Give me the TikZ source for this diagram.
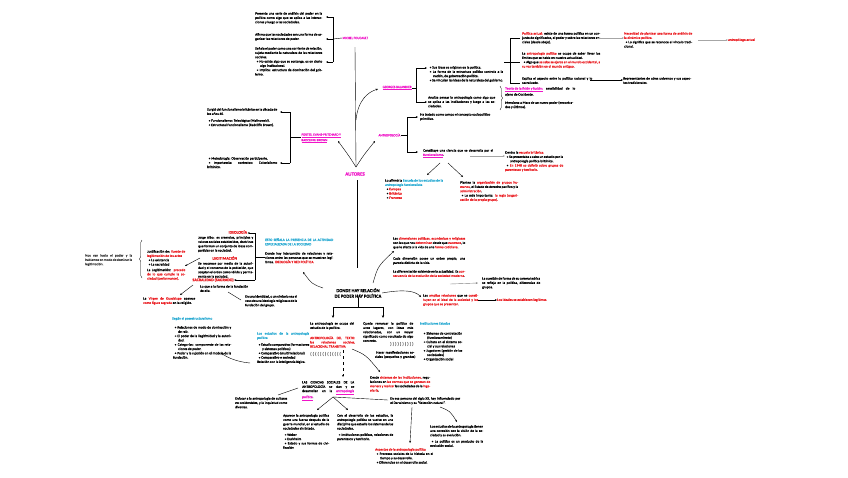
\documentclass[tikz,border=0pt]{standalone}
\usepackage{fontspec}
\setmainfont{Carlito}[FakeBold=0.5]
\usetikzlibrary{arrows.meta,decorations.pathreplacing}
\definecolor{mymag}{RGB}{240,20,200}
\definecolor{myred}{RGB}{235,30,35}
\definecolor{mycyan}{RGB}{40,170,210}
\newcommand{\rd}[1]{\textcolor{myred}{#1}}
\newcommand{\cy}[1]{\textcolor{mycyan}{#1}}
\newcommand{\mgu}[1]{\textcolor{mymag}{\underline{#1}}}
\newcommand{\bul}{\par\hangindent=5pt\hangafter=1\noindent\hspace*{1.5pt}\textbullet\ }
\tikzset{
  tx/.style={font=\fontsize{3.5}{4.3}\selectfont, align=justify, inner sep=0pt, anchor=north west, text width=#1},
  tx/.default=60pt,
  lab/.style={font=\fontsize{3.3}{3.9}\selectfont, text=mymag, inner sep=0.3pt, anchor=west},
  hred/.style={font=\bfseries\fontsize{4}{4.6}\selectfont, text=myred, inner sep=0.3pt, anchor=west},
  sym/.style={font=\fontsize{4.6}{5}\selectfont, text=black!55, inner sep=0pt, anchor=west},
  ln/.style={line width=0.4pt},
  ar/.style={-{Stealth[length=2.2pt,width=1.9pt]}, line width=0.4pt},
  bar/.style={-{Stealth[length=2.8pt,width=2.4pt]}, line width=0.75pt},
  gar/.style={-{Stealth[length=2.2pt,width=1.8pt]}, line width=0.9pt, gray!70},
  brc/.style={decorate, decoration={brace, amplitude=2.5pt}, line width=0.4pt}
}
\begin{document}
\begin{tikzpicture}[x=1pt,y=-1pt]
\useasboundingbox[fill=white] (0,0) rectangle (848,477);

% ---------- AUTORES ----------
\node[font=\bfseries\fontsize{5}{6}\selectfont, text=mymag, inner sep=1pt] (autores) at (355,174) {AUTORES};
\coordinate (apex) at (356,167);
\coordinate (vtop) at (355,47);
\draw[ln] (apex) -- (vtop);

% ---------- Foucault ----------
\node[tx=67pt] (f1) at (255,12) {Presenta una serie de análisis del poder en la política como algo que se aplica a las interacciones y luego a las sociedades.};
\node[tx=67pt] (f2) at (255,33) {Afirma que las sociedades son una forma de organizar las relaciones de poder.};
\node[tx=67pt] (f3) at (255,47) {Señala el poder como una corriente de relación, sujeta mediante la naturaleza de las relaciones sociales.\bul No existe algo que se sostenga, es en cierto algo institucional.\bul Implica: estructura de dominación del gobierno.};
\node[lab] (foucault) at (342,38) {MICHEL FOUCAULT};
\coordinate (fb1) at (333,17); \coordinate (fb2) at (333,39); \coordinate (fb3) at (333,62);
\draw[ln] (fb1) -- (fb3);
\draw[ar] (fb1) -- ++(-7,0);
\draw[ar] (fb2) -- ++(-7,0);
\draw[ar] (fb3) -- ++(-7,0);
\draw[ln] (fb2) -- (foucault.west);

% ---------- Fortes / Evans-Pritchard ----------
\node[lab, anchor=north west, align=left] (fep) at (301,133) {\underline{FORTES, EVANS-PRITCHARD Y}\\\underline{RADCLIFFE BROWN}};
\draw[ar] (apex) .. controls (349,156) .. (338,141);
\coordinate (eb1) at (290,112); \coordinate (eb2) at (290,163); \coordinate (ebm) at (290,137);
\draw[ln] (eb1) -- (eb2);
\draw[ar] (eb1) -- ++(-10,0);
\draw[ar] (eb2) -- ++(-10,0);
\draw[ln] (ebm) -- (fep.west |- ebm);
\node[tx=70pt] (e1) at (207,108) {Surgió del funcionalismo británico en la década de los años 40.\par\vspace{2.5pt}\bul Funcionalismo: Teleológico (Malinowski).\bul Estructural Funcionalismo (Radcliffe Brown).};
\node[tx=70pt] (e2) at (207,155) {\bul Metodología: Observación participante.\bul Importancia: contextos: Colonialismo británico.};

% ---------- Balandier ----------
\node[lab, anchor=east] (bal) at (412,88) {\underline{GEORGES BALANDIER}};
\draw[ar] (356,120) .. controls (358,100) and (368,92) .. (378,89);
\coordinate (bb1) at (416,68); \coordinate (bb2) at (416,102);
\draw[ln] (bb1) -- (bb2);
\draw[ln] (bal.east) -- (bal.east -| bb1);
\draw[ar] (bb1) -- ++(11,0);
\draw[ar] (bb2) -- ++(11,0);
\node[tx=75pt] (ba) at (428,64) {\bul Sus ideas se originan en la política.\bul La forma de la estructura política controla a la nación, de gobernación política.\bul Se vinculan las ideas de la naturaleza del gobierno.};
\node[tx=67pt] (bbk) at (428,96) {Analiza pensar la antropología como algo que se aplica a las instituciones y luego a las sociedades.};

\coordinate (rb1) at (510,38); \coordinate (rb2) at (510,62); \coordinate (rb3) at (510,83);
\draw[ln] (504,62) -- (rb2);
\draw[ln] (rb1) -- (rb3);
\draw[ln] (rb1) -- ++(10,0);
\draw[ln] (rb2) -- ++(10,0);
\draw[ln] (rb3) -- ++(10,0);
\node[tx=78pt] (t1) at (522,32) {\rd{Política actual:} existe de una forma política en un conjunto de significados, el poder y sobre las relaciones sociales (desde abajo).};
\node[tx=78pt] (t2) at (522,52) {La \rd{antropología política} se ocupa de saber llevar los límites que se habla en nuestra actualidad.\bul Algo que \rd{se sabe se ejerce en el mundo occidental, a su vez también en el mundo antiguo.}};
\node[tx=70pt] (t3) at (522,77) {Explica el aspecto entre lo político racional y lo sacralizado.};
\node[tx=68pt] (r1) at (624,32) {\rd{Necesidad de plantear una forma de análisis de la dinámica política.}\bul Lo significa que se reconoce el vínculo tradicional.};
\node[font=\fontsize{3.5}{4.3}\selectfont, text=myred, inner sep=0pt, anchor=west] (aa) at (728,40) {antropólogo actual};
\node[tx=68pt] (r3) at (623,77) {Representantes de otros universos y sus aspectos tradicionales.};
\draw[gar] (597,38) -- (r1.west |- 0,38);
\draw[gar] (698,40) -- (aa.west);
\draw[ar] (590,80) -- (r3.west |- 0,80);

\draw[brc] (500,86) -- (500,110);
\node[tx=70pt] (b1) at (505,87) {\mgu{Teoría de la fisión y fusión:} sensibilidad de lo ajeno de Occidente.};
\node[tx=68pt] (b2) at (505,101) {Menciona a Marx de un nuevo poder (encontrados y últimos).};

% ---------- Antropologia ----------
\node[lab] (antro) at (378,135) {ANTROPOLOGÍA};
\draw[ar] (apex) .. controls (363,156) .. (375,141);
\coordinate (ab1) at (407,117); \coordinate (ab2) at (407,152);
\draw[ln] (antro.east) -- (antro.east -| ab1);
\draw[ln] (ab1) -- (ab2);
\draw[ar] (ab1) -- ++(11,0);
\draw[ar] (ab2) -- ++(11,0);
\node[tx=70pt] (an1) at (420,113) {Ha tratado como campo el concepto sociopolítico primitivo.};
\node[tx=70pt] (an2) at (423,149) {Constituye una ciencia que se desarrolla por el \mgu{funcionalismo}.};
\draw[ar] (440,163) -- (427,175);
\draw[ar] (448,163) -- (463,177);
\node[tx=58pt] (dn) at (505,151) {Dentro la \rd{escuela británica:}\bul Se presentaba a cabo un estudio por la antropología política británica.\bul \rd{En 1940 se definió sobre grupos de parentesco y territorio.}};
\draw[gar] (470,156) -- (dn.west |- 0,156);
\node[tx=58pt] (ls) at (385,179) {Lo afirmó la \cy{Escuela de los estudios de la antropología funcionalista}\bul \rd{Europea}\bul \rd{Británica}\bul \rd{Francesa}};
\node[tx=58pt] (rs) at (460,181) {Plantea la \rd{organización de grupos humanos}, el Estado de derecho pacífico y la \rd{administración}.\bul Lo más importante: \rd{la regla (organización de la propia grupo).}};

% ---------- DONDE ----------
\node[font=\bfseries\fontsize{4.6}{5.6}\selectfont, align=center, inner sep=0.5pt] (donde) at (358,293) {DONDE HAY RELACIÓN\\DE PODER HAY POLÍTICA};
\draw[ln] (357,180) -- (357,268);

% right of DONDE
\node[tx=72pt] (dim1) at (393,237) {Las \rd{dimensiones políticas, económicas y religiosas} son las que nos \rd{determinan} desde que \rd{nacemos}, lo que le afecta a la vida de una \rd{forma cotidiana}.};
\node[tx=72pt] (dim2) at (393,257) {Cada dimensión posee un orden propio, una parcela distinta de la vida.};
\node[tx=72pt] (dim3) at (393,270) {La diferenciación existente en la actualidad. Es \rd{consecuencia de la evolución de la sociedad moderna}.};
\draw[ar] (373,283) .. controls (378,266) .. (394,251);
\draw[ar, gray] (450,284) -- (478,283);
\node[tx=58pt] (cf) at (482,277) {La cuestión de forma de su carrera teórica se refleja en la política, diferencias de grupos.};
\draw[ar] (donde.east) .. controls (405,289) and (415,291) .. (421,297);
\node[tx=55pt] (amp) at (423,294) {Las \rd{amplias relaciones} que se \rd{constituyen en el ideal de la sociedad y los grupos que se presentan.}};
\node[font=\fontsize{3.5}{4.3}\selectfont, text=myred, inner sep=0pt, anchor=west] (leg) at (497,300) {Los ideales se establecen legítimos};
\draw[ar] (478,300) -- (leg.west);

% ---------- ESTO / left ----------
\node[tx=68pt] (esto) at (265,238) {\cy{ESTO SEÑALA LA PRESENCIA DE LA ACTIVIDAD ESPECIALIZADA DE LA SOCIEDAD}\par\vspace{5pt}Donde hay intercambio de relaciones y relaciones entre las personas que se muestran legítimas. \rd{IDEOLOGÍA Y RED POLÍTICA}};
\draw[ar] (323,288) .. controls (312,284) .. (303,272);
\node[hred] (ideo) at (228,232) {IDEOLOGÍA};
\node[tx=55pt] (ideot) at (198,236) {Jorge Albo: es creencias, principios y valores sociales establecidos, doctrinas que forman un conjunto de ideas compartidas en la sociedad.};
\node[hred] (legi) at (212,258) {LEGITIMACIÓN};
\node[tx=55pt] (legt) at (198,262) {Se reconoce por medio de la autoridad y el consenso de la población, que aceptan el orden como válido y permanente en la sociedad.};
\node[hred] (sac) at (192,280) {SACRALIDAD (SAGRADO)};
\node[tx=48pt] (sact) at (200,285) {Lo que a la forma de la fundación de ella.};
\coordinate (sb1) at (255,233); \coordinate (sb2) at (255,280); \coordinate (sbm) at (255,257);
\draw[ln] (sb1) -- (sb2);
\draw[ar] (sb1) -- (ideo.east |- sb1);
\draw[ar] (sb2) -- (sac.east |- sb2);
\draw[ln] (sbm) -- (esto.west |- sbm);
\draw[ln] (228,292) -- (241,300);
\node[tx=52pt] (sid) at (245,295) {En una identidad, o un símbolo sea el caso de una ideología religiosa o de la fundación del grupo.};

\draw[brc] (142,278) -- (142,240);
\node[tx=47pt, text=black!75] (nos) at (85,254) {Nos van hacia el poder y la hablamos en modo de dominar la legitimación.};
\node[tx=38pt] (just) at (147,250) {Justificación de: \rd{fuente de legitimación de los actos}\bul La existencia\bul La sacralidad\par\vspace{1.2pt}La Legitimación: \rd{procede de lo que cumple la sociedad (performance).}};
\draw[ar] (200,258) -- (185,266);
\draw[ar] (193,285) -- (180,295);
\node[tx=52pt] (virg) at (143,297) {La \rd{Virgen de Guadalupe} aparece \rd{como figura sagrada} en la religión.};

% ---------- lower left ----------
\node[font=\fontsize{3.5}{4.3}\selectfont, text=mycyan, inner sep=0pt, anchor=north west] (pos) at (172,317) {Según el posestructuralismo};
\node[tx=58pt] (posl) at (173,324) {\bul Relaciones de modo de dominación y de raíz.\bul El poder de la ilegitimidad y la autoridad.\bul Categorías: componente de las relaciones de poder.\bul Poder y la sujeción en el modelo de la fundación.};
\node[tx=52pt] (est) at (257,332) {\cy{Los estudios de la antropología política}\par\vspace{2.5pt}\bul Estudio comparativo (formaciones y sistemas políticos)\bul Comparativo (multirrelacional)\bul Comparativo e sociedad\par Relación con la inteligencia lógica.};
\draw[ar] (250,363) .. controls (238,362) and (228,358) .. (221,353);

% ---------- split under DONDE ----------
\coordinate (sp) at (358,307);
\draw[bar] (donde.south) -- (sp) -- (333,307) -- (333,318);
\draw[bar] (sp) -- (383,307) -- (383,318);

\node[tx=44pt] (ant) at (310,322) {La antropología se ocupa del estudio de la política.};
\node[tx=45pt, text=myred] (antr) at (310,336) {ANTROPOLOGÍA DEL TEXTO: las relaciones sociales, RELACIONAL TRANSITIVA};
\node[sym] (cc) at (310,354) {( ( ( ( ( ( ( ( ( ( ( ( (};
\draw[ar, dashed] (343,350) -- (343,377);
\draw[ar] (352,349) .. controls (366,355) .. (380,372);

\node[tx=50pt] (qr) at (363,322) {Queda remarcar la política de unos lugares, con ideas más relacionadas, con un mayor significado como resultado de algo concreto.};
\node[sym] (gg) at (390,344) {) ) ) ) ) ) ) ) ) )};
\node[tx=42pt, align=center] (hac) at (374,351) {Hacer manifestaciones sociales (pequeños y grandes)};
\node[font=\fontsize{3.5}{4.3}\selectfont, text=mycyan, inner sep=0pt, anchor=north west] (inst) at (420,322) {Instituciones Estados};
\node[tx=40pt] (instl) at (422,330) {\bul Sistemas de contratación (funcionamiento)\bul Cultura en el sistema social y sus relaciones\bul Jugadores (gestión de las sociedades)\bul Organización social};

\node[tx=60pt] (des) at (370,376) {Desde \rd{sistemas de las instituciones,} regulaciones en \rd{las normas que se generan de manera y realizar} las sociedades de la \rd{ingeniería}.};
\node[tx=52pt] (cien) at (302,381) {LAS CIENCIAS SOCIALES DE LA ANTROPOLOGÍA se dan y se desarrollan en la \mgu{antropología} \mgu{política}.};
\draw[ln] (298,388) -- (278,395);
\node[tx=52pt] (enf) at (235,397) {Enfocar a la antropología de culturas no occidentales, y la inquietud como diversas.};
\coordinate (sq) at (333,397);
\draw[ln] (sq) -- (388,400);
\node[tx=70pt] (sig) at (390,397) {En esa persona del siglo XX, hay influenciado por el Darwinismo y su “Selección natural”.};
\draw[ar] (sq) -- (317,410);
\draw[ar] (sq) -- (348,410);
\node[tx=46pt] (ap) at (283,414) {Aparece la antropología política como una fuerza después de la guerra mundial, en el estudio de sociedades sin Estado.\par\vspace{2pt}\bul Weber\bul Durkheim\bul Estado y sus formas de civilización};
\node[tx=56pt] (rel) at (337,414) {Con el desarrollo de los estudios, la antropología política se vuelve en una disciplina que estudia los sistemas de las sociedades.\par\vspace{2pt}\bul Instituciones políticas, relaciones de parentesco y territorio.};
\draw[ar] (412,407) -- (410,443);
\node[tx=58pt] (asp) at (375,448) {\rd{Aspectos de la antropología política}\bul Procesos sociales de la historia en el tiempo y su desarrollo.\bul Diferencias en el desarrollo social.};
\draw[ar] (440,407) .. controls (450,411) .. (457,422);
\node[tx=53pt] (cur) at (430,425) {Los estudios de la antropología tienen una conexión con la visión de la sociedad y su evolución.\par\vspace{2pt}\bul La política es un producto de la evolución social.};
\end{tikzpicture}
\end{document}
